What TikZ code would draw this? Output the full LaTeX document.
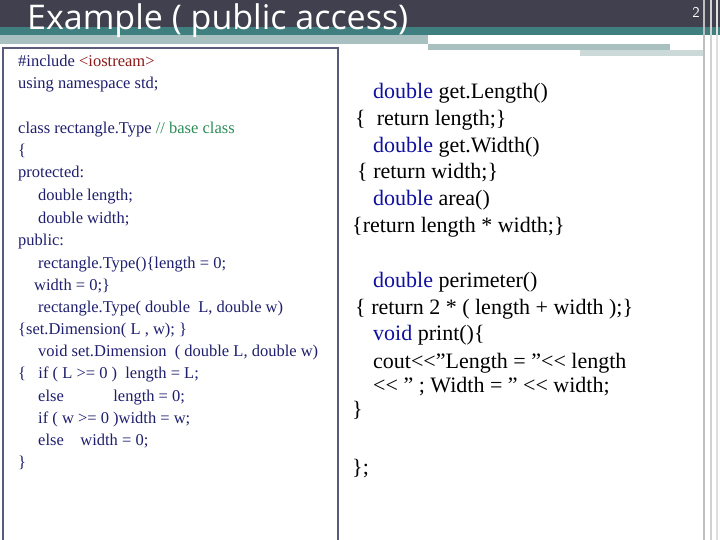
\documentclass[tikz,border=0pt]{standalone}
\usepackage{fontspec}
\setmainfont{Liberation Serif}
\newfontfamily\titlefont{Open Sans}
\newcommand{\qq}{\symbol{34}}
\definecolor{navy}{HTML}{1F1F6E}
\definecolor{kw}{HTML}{1010A0}
\definecolor{cmt}{HTML}{2E8B57}
\definecolor{inc}{HTML}{8B1A1A}
\definecolor{bardark}{HTML}{40404F}
\definecolor{barteal}{HTML}{3F7F80}
\definecolor{barlight}{HTML}{A8C0C0}
\definecolor{boxline}{HTML}{5A5A7A}
\begin{document}
\begin{tikzpicture}[x=1pt,y=-1pt,
  lt/.style={anchor=base west,inner sep=0,font=\fontsize{16.5}{18}\selectfont,text=navy},
  rt/.style={anchor=base west,inner sep=0,font=\fontsize{22}{24}\selectfont,text=black}]
\useasboundingbox (0,0) rectangle (720,540);
\fill[white] (0,0) rectangle (720,540);
\fill[bardark] (0,0) rectangle (720,27);
\fill[barteal] (0,27) rectangle (720,35);
\fill[barlight] (0,35) rectangle (428,44);
\fill[barlight] (428,44) rectangle (670,50);
\fill[barlight!60] (580,50) rectangle (705,56);
\draw[gray!50,line width=2] (704,0) -- (704,540);
\draw[gray!35,line width=2] (711,0) -- (711,540);
\draw[gray!25,line width=1.5] (717,0) -- (717,540);
\node[anchor=base west,inner sep=0,text=white,font=\titlefont\fontsize{34}{36}\selectfont] (title) at (27,30) {Example ( public access)};
\node[anchor=base,inner sep=0,font=\sffamily\fontsize{15}{16}\selectfont,text=white] (pg) at (696,18) {2};
\draw[boxline,line width=2] (3,48) rectangle (338,545);
\node[lt] (l1) at (18,67) {\#include \textcolor{inc}{<iostream>}};
\node[lt] (l2) at (18,89) {using namespace std;};
\node[lt] (l3) at (18,134) {class rectangle.Type \textcolor{cmt}{// base class}};
\node[lt] (l4) at (18,156) {\{};
\node[lt] (l5) at (18,178) {protected:};
\node[lt] (l6) at (38,201) {double length;};
\node[lt] (l7) at (38,223) {double width;};
\node[lt] (l8) at (18,245) {public:};
\node[lt] (l9) at (38,268) {rectangle.Type()\{length = 0;};
\node[lt] (l10) at (34,290) {width = 0;\}};
\node[lt] (l11) at (38,312) {rectangle.Type( double\ \ L, double w)};
\node[lt] (l12) at (18,334) {\{set.Dimension( L , w); \}};
\node[lt] (l13) at (38,356) {void set.Dimension\ \ ( double L, double w)};
\node[lt] (l14) at (18,378) {\{\ \ \ if ( L >= 0 )\ \ length = L;};
\node[lt] (l15) at (38,401) {else\ \ \ \ \ \ \ \ \ \ \ \ length = 0;};
\node[lt] (l16) at (38,423) {if ( w >= 0 )width = w;};
\node[lt] (l17) at (38,445) {else\ \ \ \ width = 0;};
\node[lt] (l18) at (18,467) {\}};
\node[rt] (r1) at (373,99) {\textcolor{kw}{double} get.Length()};
\node[rt] (r2) at (355,126) {\{\ \ return length;\}};
\node[rt] (r3) at (373,153) {\textcolor{kw}{double} get.Width()};
\node[rt] (r4) at (357,179) {\{ return width;\}};
\node[rt] (r5) at (373,206) {\textcolor{kw}{double} area()};
\node[rt] (r6) at (352,233) {\{return length * width;\}};
\node[rt] (r7) at (373,287) {\textcolor{kw}{double} perimeter()};
\node[rt] (r8) at (355,314) {\{ return 2 * ( length + width );\}};
\node[rt] (r9) at (373,340) {\textcolor{kw}{void} print()\{};
\node[rt] (r10) at (373,368) {cout<{}<\qq Length = \qq<{}< length};
\node[rt] (r11) at (373,392) {<{}< \qq\ ; Width = \qq\ <{}< width;};
\node[rt] (r12) at (352,416) {\}};
\node[rt] (r13) at (352,474) {\};};
\end{tikzpicture}
\end{document}
